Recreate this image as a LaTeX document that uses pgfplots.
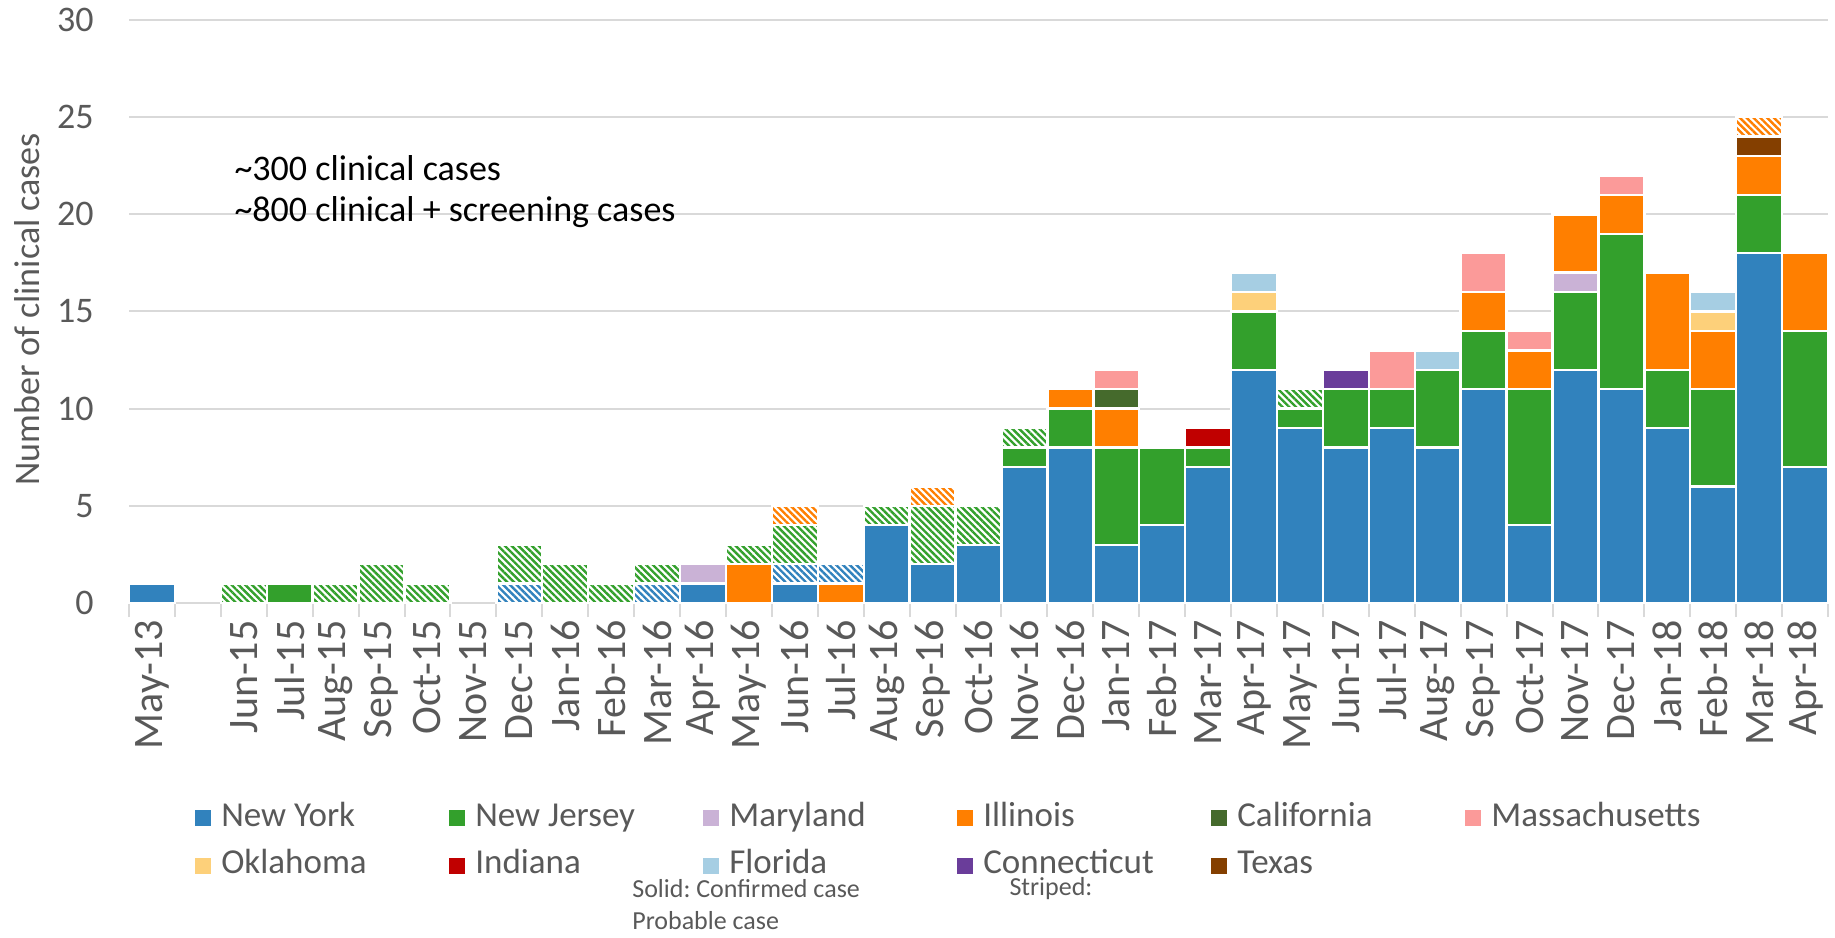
\documentclass[border=0pt]{standalone}
\usepackage{fontspec}
\setmainfont{Carlito}
\frenchspacing
\usepackage{pgfplots}
\pgfplotsset{compat=1.18}
\usepackage{pgfplotstable}
\usetikzlibrary{patterns.meta}

\definecolor{cNY}{HTML}{3182BD}
\definecolor{cNJ}{HTML}{33A02C}
\definecolor{cMD}{HTML}{CAB2D6}
\definecolor{cIL}{HTML}{FF7F00}
\definecolor{cCA}{HTML}{456A2C}
\definecolor{cMA}{HTML}{FB9A99}
\definecolor{cOK}{HTML}{FDD07A}
\definecolor{cIN}{HTML}{C00000}
\definecolor{cFL}{HTML}{A6CEE3}
\definecolor{cCT}{HTML}{6A3D9A}
\definecolor{cTX}{HTML}{843F00}
\definecolor{txtgray}{HTML}{595959}
\definecolor{gridgray}{HTML}{D9D9D9}

% Monthly clinical cases by state; columns ending in p are probable cases
\pgfplotstableread{
x  NY NJ MD IL CA MA OK IN FL CT TX NYp NJp ILp
0  1  0  0  0  0  0  0  0  0  0  0  0   0   0
1  0  0  0  0  0  0  0  0  0  0  0  0   0   0
2  0  0  0  0  0  0  0  0  0  0  0  0   1   0
3  0  1  0  0  0  0  0  0  0  0  0  0   0   0
4  0  0  0  0  0  0  0  0  0  0  0  0   1   0
5  0  0  0  0  0  0  0  0  0  0  0  0   2   0
6  0  0  0  0  0  0  0  0  0  0  0  0   1   0
7  0  0  0  0  0  0  0  0  0  0  0  0   0   0
8  0  0  0  0  0  0  0  0  0  0  0  1   2   0
9  0  0  0  0  0  0  0  0  0  0  0  0   2   0
10 0  0  0  0  0  0  0  0  0  0  0  0   1   0
11 0  0  0  0  0  0  0  0  0  0  0  1   1   0
12 1  0  1  0  0  0  0  0  0  0  0  0   0   0
13 0  0  0  2  0  0  0  0  0  0  0  0   1   0
14 1  0  0  0  0  0  0  0  0  0  0  1   2   1
15 0  0  0  1  0  0  0  0  0  0  0  1   0   0
16 4  0  0  0  0  0  0  0  0  0  0  0   1   0
17 2  0  0  0  0  0  0  0  0  0  0  0   3   1
18 3  0  0  0  0  0  0  0  0  0  0  0   2   0
19 7  1  0  0  0  0  0  0  0  0  0  0   1   0
20 8  2  0  1  0  0  0  0  0  0  0  0   0   0
21 3  5  0  2  1  1  0  0  0  0  0  0   0   0
22 4  4  0  0  0  0  0  0  0  0  0  0   0   0
23 7  1  0  0  0  0  0  1  0  0  0  0   0   0
24 12 3  0  0  0  0  1  0  1  0  0  0   0   0
25 9  1  0  0  0  0  0  0  0  0  0  0   1   0
26 8  3  0  0  0  0  0  0  0  1  0  0   0   0
27 9  2  0  0  0  2  0  0  0  0  0  0   0   0
28 8  4  0  0  0  0  0  0  1  0  0  0   0   0
29 11 3  0  2  0  2  0  0  0  0  0  0   0   0
30 4  7  0  2  0  1  0  0  0  0  0  0   0   0
31 12 4  1  3  0  0  0  0  0  0  0  0   0   0
32 11 8  0  2  0  1  0  0  0  0  0  0   0   0
33 9  3  0  5  0  0  0  0  0  0  0  0   0   0
34 6  5  0  3  0  0  1  0  1  0  0  0   0   0
35 18 3  0  2  0  0  0  0  0  0  1  0   0   1
36 7  7  0  4  0  0  0  0  0  0  0  0   0   0
}\casetable

\tikzset{
  solidbar/.style={fill=#1, draw=white, line width=1.2pt},
  stripebar/.style={preaction={fill=white},
    pattern={Lines[angle=-45, distance=2.4pt, line width=1.2pt]},
    pattern color=#1, draw=white, line width=1.2pt},
}

\begin{document}
\begin{tikzpicture}
\useasboundingbox (0,0) rectangle (917.5pt,468.5pt);
\begin{axis}[
  at={(64.5pt,167pt)}, anchor=south west,
  scale only axis, width=849.5pt, height=291.5pt,
  clip=false,
  xmin=-0.5, xmax=36.5, ymin=0, ymax=30,
  ybar stacked, bar width=1,
  axis line style={draw=none},
  ytick={0,5,...,30},
  ymajorgrids, grid style={color=gridgray, line width=1pt},
  xtick={0,...,36},
  xticklabels={May-13,{},Jun-15,Jul-15,Aug-15,Sep-15,Oct-15,Nov-15,Dec-15,
    Jan-16,Feb-16,Mar-16,Apr-16,May-16,Jun-16,Jul-16,Aug-16,Sep-16,Oct-16,Nov-16,Dec-16,
    Jan-17,Feb-17,Mar-17,Apr-17,May-17,Jun-17,Jul-17,Aug-17,Sep-17,Oct-17,Nov-17,Dec-17,
    Jan-18,Feb-18,Mar-18,Apr-18},
  minor xtick={-0.5,0.5,...,36.5},
  tick pos=left, tick align=outside,
  major tick length=0pt, minor tick length=7pt,
  tick style={color=gridgray, line width=1pt},
  /pgf/number format/assume math mode=true,
  tick label style={font=\fontsize{18}{21}\selectfont, text=txtgray, inner sep=0pt},
  yticklabel style={anchor=east, xshift=-17.5pt},
  xticklabel style={font=\fontsize{21}{25}\selectfont, rotate=90, anchor=east, xshift=-8.5pt},
  ylabel={Number of clinical cases},
  ylabel style={font=\fontsize{18}{21}\selectfont, text=txtgray, at={(axis description cs:-0.060,0.504)}, anchor=center},
  legend columns=6,
  legend style={draw=none, fill=none, inner sep=0pt, column sep=0pt, row sep=7.75pt,
    at={(0.0388,-0.410)}, anchor=west,
    font=\fontsize{17.5}{20}\selectfont, text=txtgray,
    nodes={inner sep=0pt, text height=12pt, text depth=4pt}},
  legend cell align=left,
  legend image code/.code={\fill[#1, draw=none] (0pt,-4pt) rectangle (8pt,4pt);},
]
\addplot[solidbar=cNY] table[x=x, y=NY] {\casetable};
\addplot[solidbar=cNJ] table[x=x, y=NJ] {\casetable};
\addplot[solidbar=cMD] table[x=x, y=MD] {\casetable};
\addplot[solidbar=cIL] table[x=x, y=IL] {\casetable};
\addplot[solidbar=cCA] table[x=x, y=CA] {\casetable};
\addplot[solidbar=cMA] table[x=x, y=MA] {\casetable};
\addplot[solidbar=cOK] table[x=x, y=OK] {\casetable};
\addplot[solidbar=cIN] table[x=x, y=IN] {\casetable};
\addplot[solidbar=cFL] table[x=x, y=FL] {\casetable};
\addplot[solidbar=cCT] table[x=x, y=CT] {\casetable};
\addplot[solidbar=cTX] table[x=x, y=TX] {\casetable};
\addplot[stripebar=cNY] table[x=x, y=NYp] {\casetable};
\addplot[stripebar=cNJ] table[x=x, y=NJp] {\casetable};
\addplot[stripebar=cIL] table[x=x, y=ILp] {\casetable};
\legend{\makebox[119pt][l]{\hspace{5pt}New York},
  \makebox[119pt][l]{\hspace{5pt}New Jersey},
  \makebox[119pt][l]{\hspace{5pt}Maryland},
  \makebox[119pt][l]{\hspace{5pt}Illinois},
  \makebox[119pt][l]{\hspace{5pt}California},
  \makebox[119pt][l]{\hspace{5pt}Massachusetts},
  \makebox[119pt][l]{\hspace{5pt}Oklahoma},
  \makebox[119pt][l]{\hspace{5pt}Indiana},
  \makebox[119pt][l]{\hspace{5pt}Florida},
  \makebox[119pt][l]{\hspace{5pt}Connecticut},
  \makebox[119pt][l]{\hspace{5pt}Texas}}

\node[anchor=west, inner sep=0pt, font=\fontsize{18}{21}\selectfont] at (axis cs:1.79,22.4) {\textasciitilde300 clinical cases};
\node[anchor=west, inner sep=0pt, font=\fontsize{18}{21}\selectfont] at (axis cs:1.79,20.1) {\textasciitilde800 clinical + screening cases};
\node[anchor=west, inner sep=0pt, text=txtgray, font=\fontsize{13}{15}\selectfont] at (axis description cs:0.296,-0.4906) {Solid: Confirmed case};
\node[anchor=west, inner sep=0pt, text=txtgray, font=\fontsize{13}{15}\selectfont] at (axis description cs:0.518,-0.4906) {Striped:};
\node[anchor=west, inner sep=0pt, text=txtgray, font=\fontsize{13}{15}\selectfont] at (axis description cs:0.296,-0.545) {Probable case};
\end{axis}
\end{tikzpicture}
\end{document}
